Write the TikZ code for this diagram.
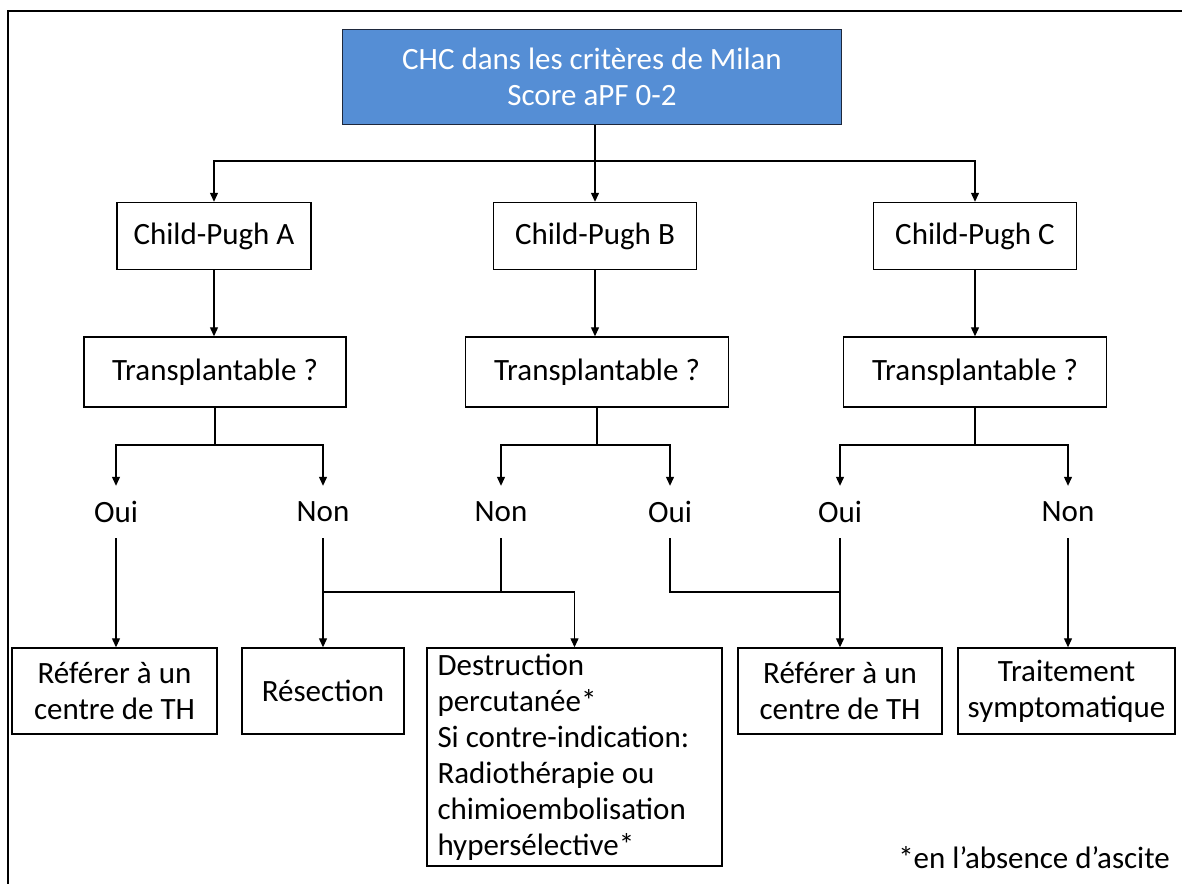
\documentclass[tikz,border=0pt]{standalone}
\usepackage{fontspec}
\setmainfont{Carlito}
\usetikzlibrary{arrows.meta}
\definecolor{milanblue}{RGB}{85,142,213}

\begin{document}
\begin{tikzpicture}[x=1pt,y=1pt,yscale=-1,xscale=1,
  every node/.style={font=\fontsize{31}{36}\selectfont},
  box/.style={draw, line width=1.4, inner sep=0pt, align=center},
  lbl/.style={inner sep=0pt, minimum height=52},
  link/.style={line width=1.2},
  arr/.style={line width=1.2, -{Triangle[width=8,length=9]}}]
\useasboundingbox (0,0) rectangle (1182,883);
%Shape: Frame
\draw [line width=1.5] (8,890) -- (8,11) -- (1190,11);
%Shape: Rectangle
\node [box, fill=milanblue, text=white, draw={rgb,255:red,30;green,40;blue,60}, minimum width=499, minimum height=95] (top) at (592,77) {CHC dans les critères de Milan\\Score aPF 0-2};
%Shape: Rectangle
\node [box, minimum width=194, minimum height=67] (cpA) at (214,236) {Child-Pugh A};
\node [box, minimum width=203, minimum height=67] (cpB) at (595,236) {Child-Pugh B};
\node [box, minimum width=203, minimum height=67] (cpC) at (975,236) {Child-Pugh C};
%Shape: Rectangle
\node [box, minimum width=262, minimum height=70] (trA) at (215,372) {Transplantable ?};
\node [box, minimum width=263, minimum height=70] (trB) at (597,372) {Transplantable ?};
\node [box, minimum width=263, minimum height=70] (trC) at (975,372) {Transplantable ?};
% Text Node
\node [lbl] (ouiA) at (116,512) {Oui};
\node [lbl] (nonA) at (323,512) {Non};
\node [lbl] (nonB) at (501,512) {Non};
\node [lbl] (ouiB) at (670,512) {Oui};
\node [lbl] (ouiC) at (840,512) {Oui};
\node [lbl] (nonC) at (1068,512) {Non};
%Shape: Rectangle
\node [box, minimum width=205, minimum height=86] (refA) at (114.5,691) {Référer à un\\centre de TH};
\node [box, minimum width=162, minimum height=86] (resec) at (323,691) {Résection};
\node [box, minimum width=295, minimum height=218, align=flush left, text width=274] (destr) at (574.5,757) {Destruction\\percutanée*\\Si contre-indication:\\Radiothérapie ou\\chimioembolisation\\hypersélective*};
\node [box, minimum width=204, minimum height=86] (refC) at (840,691) {Référer à un\\centre de TH};
\node [box, minimum width=217, minimum height=86] (trait) at (1066.5,691) {Traitement\\symptomatique};
% Text Node
\node [anchor=base east, inner sep=0pt] (note) at (1170,868) {*en l’absence d’ascite};
%Straight Lines
\coordinate (j0) at (595,161);
\coordinate (jA) at (215,445);
\coordinate (jB) at (597,445);
\coordinate (jC) at (975,445);
\coordinate (jD) at (501,592);
\draw [link] (top.south -| j0) -- (j0);
\draw [arr] (j0) -| (cpA.north);
\draw [arr] (j0) -- (cpB.north -| j0);
\draw [arr] (j0) -| (cpC.north);
%Straight Lines
\draw [arr] (cpA.south) -- (cpA.south |- trA.north);
\draw [arr] (cpB.south) -- (cpB.south |- trB.north);
\draw [arr] (cpC.south) -- (trC.north);
%Straight Lines
\draw [link] (trA.south) -- (jA);
\draw [arr] (jA) -| (ouiA.north);
\draw [arr] (jA) -| (nonA.north);
\draw [link] (trB.south) -- (jB);
\draw [arr] (jB) -| (nonB.north);
\draw [arr] (jB) -| (ouiB.north);
\draw [link] (trC.south) -- (jC);
\draw [arr] (jC) -| (ouiC.north);
\draw [arr] (jC) -| (nonC.north);
%Straight Lines
\draw [arr] (ouiA.south) -- (ouiA.south |- refA.north);
\draw [arr] (nonA.south) -- (resec.north -| nonA.south);
\draw [link] (nonB.south) -- (jD);
\draw [arr] (nonA.south |- jD) -| (destr.north);
\draw [link] (ouiB.south) |- (ouiC.south |- jD);
\draw [arr] (ouiC.south) -- (refC.north);
\draw [arr] (nonC.south) -- (nonC.south |- trait.north);
\end{tikzpicture}
\end{document}
